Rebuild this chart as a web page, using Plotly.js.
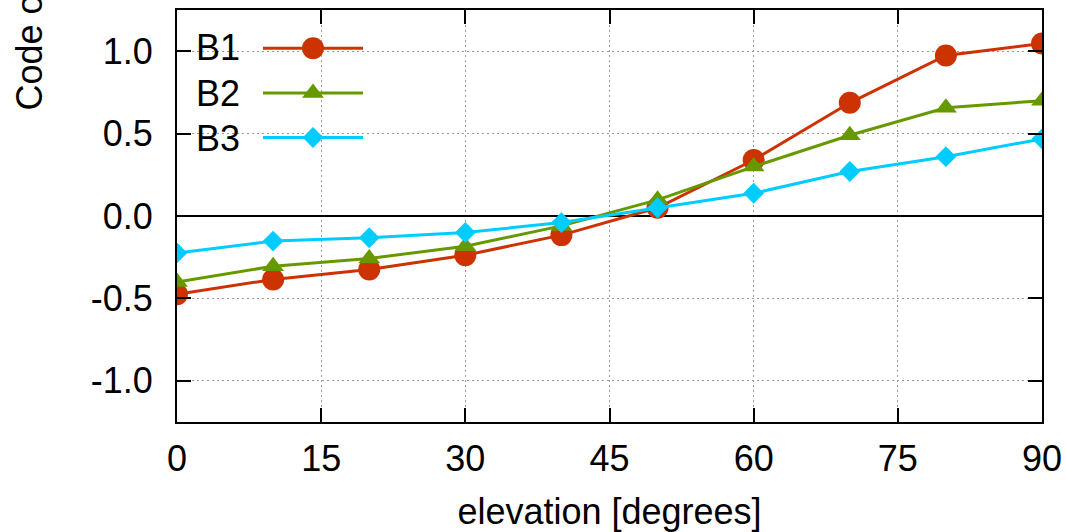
<!DOCTYPE html>
<html>
<head>
<meta charset="utf-8">
<script src="https://cdn.plot.ly/plotly-3.0.1.min.js"></script>
<style>
html,body{margin:0;padding:0;background:#fff;}
#chart{width:1066px;height:532px;}
</style>
</head>
<body>
<div id="chart"></div>
<script>
// Data
var elevation = [0, 10, 20, 30, 40, 50, 60, 70, 80, 90];
var B1 = [-0.475, -0.385, -0.325, -0.238, -0.116, 0.05, 0.34, 0.687, 0.974, 1.047];
var B2 = [-0.40, -0.305, -0.258, -0.183, -0.06, 0.098, 0.30, 0.49, 0.657, 0.70];
var B3 = [-0.224, -0.152, -0.132, -0.10, -0.04, 0.05, 0.138, 0.27, 0.36, 0.468];
var seriesNames = ['B1', 'B2', 'B3'];
var xTickVals = [0, 15, 30, 45, 60, 75, 90];
var yTickVals = [-1.0, -0.5, 0.0, 0.5, 1.0];
var xTitle = 'elevation [degrees]';
var yTitle = 'Code offset [m]';

var FONT = 'Liberation Sans, Arial, Helvetica, sans-serif';
var L = 177, R = 24, T = 10, B = 110, W = 1066, H = 532;
var pw = W - L - R, ph = H - T - B;
function px(x){ return (x - L) / pw; }
function py(y){ return (H - B - y) / ph; }

var colors = ['#cc3300', '#669900', '#00ccff'];
var symbols = ['circle', 'triangle-up', 'diamond'];
var sizes = [22, 19, 16];
var ys = [B1, B2, B3];

var traces = ys.map(function(v, i){
  return {
    x: elevation, y: v, type: 'scatter', mode: 'lines+markers',
    name: ' ',
    line: {color: colors[i], width: 3},
    marker: {color: colors[i], symbol: symbols[i], size: sizes[i]},
    showlegend: true
  };
});

var annotations = seriesNames.map(function(n, i){
  return {
    text: n, xref: 'paper', yref: 'paper',
    x: px(242), y: py(48 + 45 * i), xanchor: 'right', yanchor: 'middle',
    showarrow: false, font: {family: FONT, size: 36, color: '#000'}
  };
});
annotations.push({
  text: yTitle, xref: 'paper', yref: 'paper', textangle: -90,
  x: px(29), y: py(113), xanchor: 'center', yanchor: 'bottom',
  showarrow: false, font: {family: FONT, size: 36, color: '#000'}
});

var layout = {
  width: W, height: H,
  margin: {l: L, r: R, t: T, b: B, pad: 0},
  paper_bgcolor: '#fff', plot_bgcolor: '#fff',
  font: {family: FONT, size: 36, color: '#000'},
  showlegend: true,
  legend: {
    x: px(258), y: py(21), xanchor: 'left', yanchor: 'top',
    bgcolor: 'rgba(0,0,0,0)', borderwidth: 0,
    font: {family: FONT, size: 32, color: '#000'},
    itemwidth: 100, tracegroupgap: 0
  },
  xaxis: {
    range: [0, 90], tickvals: xTickVals, ticktext: xTickVals.map(String),
    ticks: 'inside', ticklen: 14, tickwidth: 2, tickcolor: '#000',
    showline: true, linewidth: 2, linecolor: '#000', mirror: 'ticks',
    showgrid: true, gridcolor: '#9a9a9a', gridwidth: 1, griddash: '2px,3px',
    zeroline: false, ticklabelstandoff: 4,
    tickfont: {family: FONT, size: 36, color: '#000'},
    title: {text: xTitle, font: {family: FONT, size: 36, color: '#000'}, standoff: 22}
  },
  yaxis: {
    range: [-1.25, 1.25], tickvals: yTickVals,
    ticktext: yTickVals.map(function(v){ return v.toFixed(1); }),
    ticks: 'inside', ticklen: 14, tickwidth: 2, tickcolor: '#000',
    showline: true, linewidth: 2, linecolor: '#000', mirror: 'ticks',
    showgrid: true, gridcolor: '#9a9a9a', gridwidth: 1, griddash: '2px,3px',
    zeroline: true, zerolinecolor: '#000', zerolinewidth: 2,
    ticklabelstandoff: 15,
    tickfont: {family: FONT, size: 36, color: '#000'}
  },
  shapes: [{
    type: 'rect', xref: 'paper', yref: 'paper', layer: 'between',
    x0: px(192), x1: px(378), y0: py(158), y1: py(25),
    fillcolor: '#fff', line: {width: 0}
  }],
  annotations: annotations
};

Plotly.newPlot('chart', traces, layout, {displayModeBar: false, staticPlot: true}).then(function(gd){
  // enlarge legend symbols (Plotly caps legend marker size) to match the reference
  var legendScale = [22 / 16, 19 / 16, 1];
  var items = gd.querySelectorAll('.legend .traces');
  items.forEach(function(item, i){
    var pts = item.querySelectorAll('.legendpoints path.scatterpts');
    pts.forEach(function(p){
      var t = p.getAttribute('transform') || '';
      p.setAttribute('transform', t + ' scale(' + (legendScale[i] || 1) + ')');
    });
  });
});
</script>
</body>
</html>
